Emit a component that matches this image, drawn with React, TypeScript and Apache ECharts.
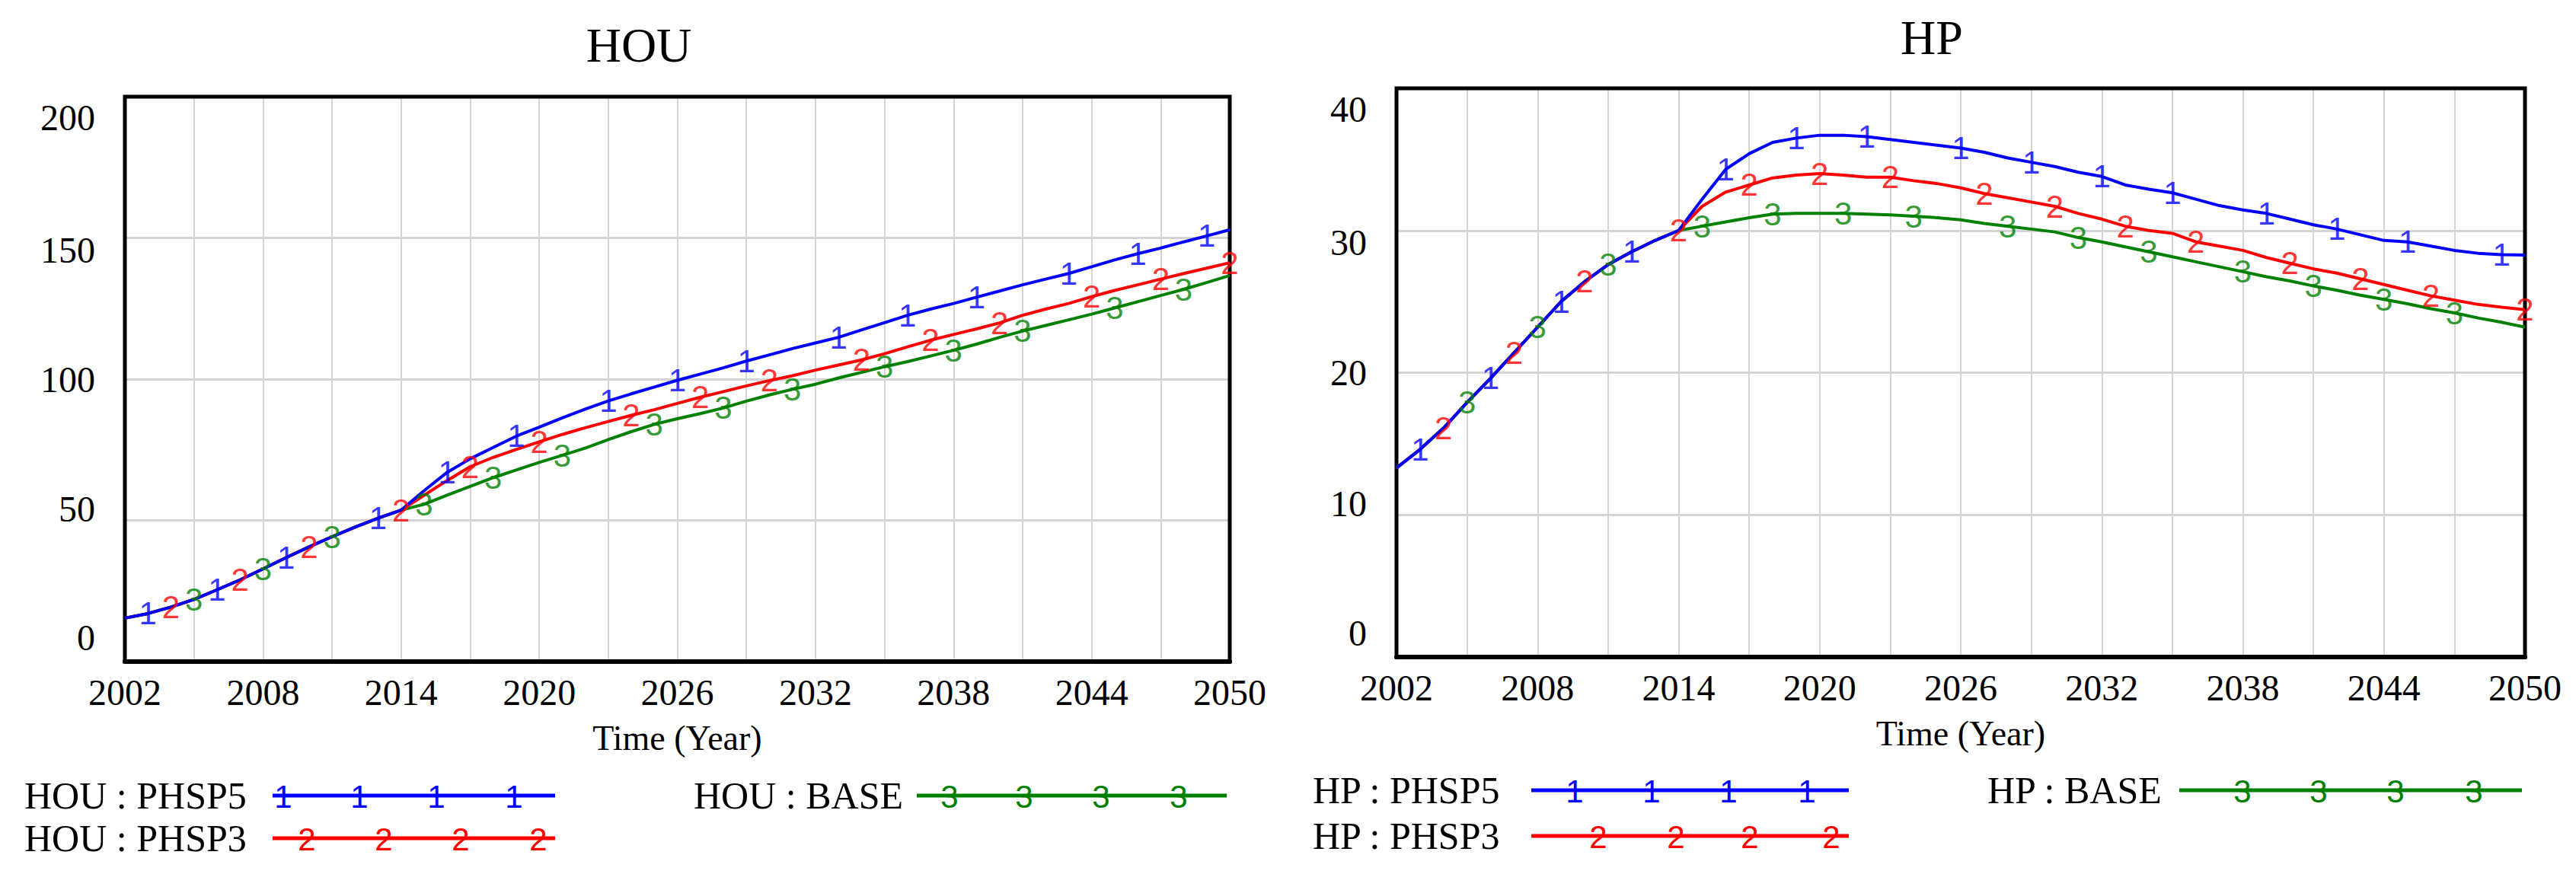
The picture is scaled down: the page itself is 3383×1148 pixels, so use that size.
import React, { useEffect, useRef } from "react";
import * as echarts from "echarts";

// ---------- data ----------
const YEARS: string[] = [
  "2002","2003","2004","2005","2006","2007","2008","2009","2010","2011","2012","2013","2014",
  "2015","2016","2017","2018","2019","2020","2021","2022","2023","2024","2025","2026","2027",
  "2028","2029","2030","2031","2032","2033","2034","2035","2036","2037","2038","2039","2040",
  "2041","2042","2043","2044","2045","2046","2047","2048","2049","2050",
];

const HOU_PHSP5 = [
  15.4, 17.0, 19.3, 22.0, 25.4, 28.9, 32.8, 36.8, 40.6, 44.2, 47.6, 50.8, 53.6,
  60.5, 67.0, 71.8, 75.8, 79.8, 83.0, 86.3, 89.4, 92.3, 94.8, 97.2, 99.6, 101.8,
  104.0, 106.4, 108.6, 110.8, 112.8, 114.8, 117.4, 120.0, 122.6, 124.8, 126.8, 129.0, 131.2,
  133.4, 135.4, 137.4, 139.8, 142.2, 144.4, 146.4, 148.6, 150.7, 152.9,
];
const HOU_PHSP3 = [
  15.4, 17.0, 19.3, 22.0, 25.4, 28.9, 32.8, 36.8, 40.6, 44.2, 47.6, 50.8, 53.6,
  58.9, 64.1, 69.0, 72.3, 75.1, 77.8, 80.4, 82.8, 85.0, 87.2, 89.2, 91.4, 93.6,
  95.6, 97.6, 99.5, 101.2, 103.2, 105.0, 106.8, 109.0, 111.4, 113.8, 115.8, 117.8, 119.9,
  122.6, 124.8, 126.8, 129.2, 131.4, 133.4, 135.4, 137.4, 139.3, 141.2,
];
const HOU_BASE = [
  15.4, 17.0, 19.3, 22.0, 25.4, 28.9, 32.8, 36.8, 40.6, 44.2, 47.6, 50.8, 53.6,
  55.7, 58.9, 62.0, 65.1, 67.8, 70.5, 73.0, 75.6, 78.6, 81.4, 84.0, 86.0, 87.8,
  89.8, 92.2, 94.4, 96.4, 98.2, 100.4, 102.4, 104.4, 106.2, 108.2, 110.2, 112.4, 114.8,
  117.0, 119.0, 121.0, 123.0, 125.2, 127.4, 129.6, 131.8, 134.2, 136.7,
];

const HP_PHSP5 = [
  13.3, 14.6, 16.1, 17.9, 19.6, 21.4, 23.2, 25.0, 26.4, 27.6, 28.5, 29.3, 30.0,
  32.2, 34.3, 35.4, 36.2, 36.5, 36.7, 36.7, 36.6, 36.4, 36.2, 36.0, 35.8, 35.5,
  35.1, 34.8, 34.5, 34.1, 33.8, 33.2, 32.9, 32.65, 32.2, 31.75, 31.45, 31.2, 30.8,
  30.4, 30.1, 29.7, 29.3, 29.2, 28.9, 28.6, 28.4, 28.3, 28.27,
];
const HP_PHSP3 = [
  13.3, 14.6, 16.1, 17.9, 19.6, 21.4, 23.2, 25.0, 26.4, 27.6, 28.5, 29.3, 30.0,
  31.7, 32.7, 33.2, 33.7, 33.9, 34.0, 33.9, 33.75, 33.75, 33.5, 33.3, 33.0, 32.6,
  32.3, 32.0, 31.7, 31.2, 30.8, 30.3, 30.0, 29.8, 29.2, 28.9, 28.6, 28.1, 27.7,
  27.3, 27.0, 26.6, 26.2, 25.8, 25.4, 25.1, 24.8, 24.6, 24.43,
];
const HP_BASE = [
  13.3, 14.6, 16.1, 17.9, 19.6, 21.4, 23.2, 25.0, 26.4, 27.6, 28.5, 29.3, 30.0,
  30.3, 30.6, 30.9, 31.15, 31.2, 31.2, 31.2, 31.15, 31.1, 31.0, 30.9, 30.75, 30.5,
  30.3, 30.1, 29.9, 29.5, 29.2, 28.85, 28.5, 28.15, 27.8, 27.45, 27.1, 26.75, 26.45,
  26.1, 25.8, 25.45, 25.15, 24.85, 24.5, 24.2, 23.85, 23.55, 23.2,
];

// years at which the run number markers sit on each curve
const HOU_MARK_PHSP5 = [2003, 2006, 2009, 2013, 2016, 2019, 2023, 2026, 2029, 2033, 2036, 2039, 2043, 2046, 2049];
const HOU_MARK_PHSP3 = [2004, 2007, 2010, 2014, 2017, 2020, 2024, 2027, 2030, 2034, 2037, 2040, 2044, 2047, 2050];
const HOU_MARK_BASE = [2005, 2008, 2011, 2015, 2018, 2021, 2025, 2028, 2031, 2035, 2038, 2041, 2045, 2048];
const HP_MARK_PHSP5 = [2003, 2006, 2009, 2012, 2016, 2019, 2022, 2026, 2029, 2032, 2035, 2039, 2042, 2045, 2049];
const HP_MARK_PHSP3 = [2004, 2007, 2010, 2014, 2017, 2020, 2023, 2027, 2030, 2033, 2036, 2040, 2043, 2046, 2050];
const HP_MARK_BASE = [2005, 2008, 2011, 2015, 2018, 2021, 2024, 2028, 2031, 2034, 2038, 2041, 2044, 2047];

const HOU_Y_TICKS = { min: 0, max: 200, interval: 50 };
const HP_Y_TICKS = { min: 0, max: 40, interval: 10 };

// ---------- styles ----------
const SERIF = "'Liberation Serif', 'Times New Roman', serif";
const SANS = "'Liberation Sans', Arial, sans-serif";
const BLUE = "#0000ff";
const RED = "#ff0000";
const GREEN = "#008000";
const MARK_SIZE = 42;

type Run = { name: string; data: number[]; color: string; mark: string; marks: number[] };

function seriesFor(grid: number, runs: Run[]) {
  const out: any[] = [];
  runs.forEach((r, i) => {
    out.push({
      type: "line",
      name: r.name,
      xAxisIndex: grid,
      yAxisIndex: grid,
      data: r.data,
      symbol: "none",
      lineStyle: { color: r.color, width: 4 },
      z: 2 + i,
      silent: true,
    });
    out.push({
      type: "scatter",
      name: r.name + " marks",
      xAxisIndex: grid,
      yAxisIndex: grid,
      data: r.marks.map((y) => [String(y), r.data[YEARS.indexOf(String(y))]]),
      symbolSize: 1,
      itemStyle: { color: r.color },
      label: {
        show: true,
        position: "inside",
        formatter: r.mark,
        color: r.color,
        fontSize: MARK_SIZE,
        fontFamily: SANS,
      },
      z: 10,
      silent: true,
    });
  });
  return out;
}

// Vensim spreads the y labels a little inside the frame
const SHIFT_PAD = [
  [0, 0, 64, 0],
  [0, 0, 30, 0],
  [0, 0, 0, 0],
  [32, 0, 0, 0],
  [54, 0, 0, 0],
];
function yAxisFor(grid: number, t: { min: number; max: number; interval: number }) {
  const rich: any = {};
  SHIFT_PAD.forEach((p, i) => {
    rich["s" + i] = { padding: p, fontSize: 48, fontFamily: SERIF, color: "#000" };
  });
  return {
    type: "value",
    gridIndex: grid,
    min: t.min,
    max: t.max,
    interval: t.interval,
    axisLine: { show: false },
    axisTick: { show: false },
    axisLabel: {
      fontSize: 48,
      fontFamily: SERIF,
      color: "#000",
      margin: 39,
      formatter: (v: number) => `{s${Math.round((v - t.min) / t.interval)}|${v}}`,
      rich,
    },
    splitLine: { show: true, lineStyle: { color: "#d4d4d4", width: 3 } },
  };
}

function xAxisFor(grid: number) {
  return {
    type: "category",
    gridIndex: grid,
    data: YEARS,
    boundaryGap: false,
    axisLine: { show: true, lineStyle: { color: "#000", width: 6 } },
    axisTick: { show: false },
    axisLabel: { interval: 5, fontSize: 48, fontFamily: SERIF, color: "#000", margin: 16 },
    splitLine: { show: true, interval: 2, lineStyle: { color: "#d4d4d4", width: 2 } },
    name: "Time (Year)",
    nameLocation: "middle",
    nameGap: 77,
    nameTextStyle: { fontSize: 46, fontFamily: SERIF, color: "#000" },
  };
}

function txt(text: string, x: number, y: number, size: number, fill: string, align: string, family = SERIF) {
  return {
    type: "text",
    x,
    y,
    silent: true,
    z: 20,
    style: { text, fontSize: size, fontFamily: family, fill, align, verticalAlign: "middle" },
  };
}

function legendEntry(label: string, tx: number, x1: number, x2: number, y: number, color: string, mark: string, markXs: number[]) {
  const els: any[] = [txt(label, tx, y, 50, "#000", "left")];
  els.push({
    type: "line",
    silent: true,
    z: 20,
    shape: { x1, y1: y, x2, y2: y },
    style: { stroke: color, lineWidth: 5 },
  });
  markXs.forEach((mx) => els.push(txt(mark, mx, y + 1, MARK_SIZE, color, "center", SANS)));
  return els;
}

export default function App() {
  const ref = useRef<HTMLDivElement>(null);

  useEffect(() => {
    if (!ref.current) return;
    const chart = echarts.init(ref.current, undefined, { renderer: "svg" });

    const houRuns: Run[] = [
      { name: "HOU : BASE", data: HOU_BASE, color: GREEN, mark: "3", marks: HOU_MARK_BASE },
      { name: "HOU : PHSP3", data: HOU_PHSP3, color: RED, mark: "2", marks: HOU_MARK_PHSP3 },
      { name: "HOU : PHSP5", data: HOU_PHSP5, color: BLUE, mark: "1", marks: HOU_MARK_PHSP5 },
    ];
    const hpRuns: Run[] = [
      { name: "HP : BASE", data: HP_BASE, color: GREEN, mark: "3", marks: HP_MARK_BASE },
      { name: "HP : PHSP3", data: HP_PHSP3, color: RED, mark: "2", marks: HP_MARK_PHSP3 },
      { name: "HP : PHSP5", data: HP_PHSP5, color: BLUE, mark: "1", marks: HP_MARK_PHSP5 },
    ];

    const graphic: any[] = [
      txt("HOU", 839, 59, 64, "#000", "center"),
      txt("HP", 2537, 49, 64, "#000", "center"),
      ...legendEntry("HOU : PHSP5", 32, 358, 729, 1045, BLUE, "1", [372, 472, 573, 675]),
      ...legendEntry("HOU : PHSP3", 32, 358, 729, 1101, RED, "2", [403, 504, 605, 707]),
      ...legendEntry("HOU : BASE", 911, 1204, 1611, 1045, GREEN, "3", [1247, 1345, 1446, 1548]),
      ...legendEntry("HP : PHSP5", 1724, 2011, 2428, 1038, BLUE, "1", [2068, 2169, 2270, 2373]),
      ...legendEntry("HP : PHSP3", 1724, 2011, 2428, 1098, RED, "2", [2099, 2201, 2298, 2405]),
      ...legendEntry("HP : BASE", 2610, 2862, 3312, 1038, GREEN, "3", [2945, 3045, 3146, 3249]),
    ];

    chart.setOption({
      animation: false,
      backgroundColor: "#ffffff",
      grid: [
        { left: 164, top: 127, width: 1451, height: 742, show: true, borderColor: "#000", borderWidth: 5, z: 1 },
        { left: 1834, top: 116, width: 1482, height: 747, show: true, borderColor: "#000", borderWidth: 5, z: 1 },
      ],
      xAxis: [xAxisFor(0), xAxisFor(1)],
      yAxis: [yAxisFor(0, HOU_Y_TICKS), yAxisFor(1, HP_Y_TICKS)],
      series: [...seriesFor(0, houRuns), ...seriesFor(1, hpRuns)],
      graphic,
    });

    return () => chart.dispose();
  }, []);

  return (
    <div
      ref={ref}
      style={{ position: "fixed", left: 0, top: 0, width: 3383, height: 1148, background: "#fff" }}
    />
  );
}
